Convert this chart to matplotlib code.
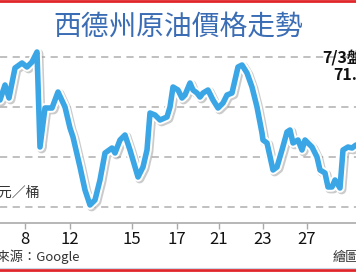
import matplotlib
matplotlib.use("Agg")
import matplotlib.pyplot as plt
import matplotlib.patheffects as pe
from matplotlib.lines import Line2D

plt.rcParams['font.family'] = ['Noto Sans CJK TC', 'DejaVu Sans']

# 時間位置(交易時段索引) 與 價格(美元/桶)
t = [0, 5, 9, 15, 22, 27, 32, 37, 40, 45, 52, 58, 65, 70, 73, 80, 85, 90, 95, 100,
     105, 112, 115, 120, 125, 130, 138, 143, 147, 150, 155, 160, 167, 170, 173, 178,
     182, 185, 190, 193, 197, 200, 203, 208, 213, 218, 223, 227, 232, 238, 242, 247,
     252, 257, 262, 263, 267, 273, 277, 282, 287, 290, 293, 298, 302, 305, 308, 312,
     317, 320, 325, 328, 332, 335, 340, 343, 348, 352, 356]
price = [73.28, 73.88, 73.36, 74.56, 74.76, 74.60, 74.80, 75.20, 71.40, 72.96,
         72.96, 73.60, 73.00, 72.16, 71.80, 70.60, 69.68, 69.08, 69.28, 70.08,
         71.16, 71.36, 71.16, 71.68, 71.88, 71.28, 70.20, 70.60, 71.28, 72.76,
         72.68, 72.48, 72.60, 73.00, 73.80, 73.68, 73.36, 73.48, 73.96, 73.68,
         73.56, 73.40, 73.56, 73.68, 73.28, 72.96, 73.16, 73.48, 73.56, 74.60,
         74.68, 74.36, 73.80, 73.00, 71.96, 71.68, 71.56, 70.48, 70.60, 71.28,
         72.00, 72.08, 71.56, 71.68, 71.28, 71.68, 71.56, 71.40, 71.00, 70.48,
         70.36, 69.80, 69.80, 70.08, 69.76, 71.28, 71.40, 71.36, 71.48]

tick_pos = [25, 70, 132, 177, 219, 263, 307]
tick_labels = ['8', '12', '15', '17', '21', '23', '27']
grid_levels = [69, 71, 73, 75]

fig = plt.figure(figsize=(3.56, 2.72), dpi=100)
ax = fig.add_axes([0, 1 - 223 / 272, 1, (223 - 45) / 272])

ax.plot(t, price, color='#3aa6e6', linewidth=4.0, solid_joinstyle='round',
        solid_capstyle='round', zorder=3,
        path_effects=[pe.SimpleLineShadow(offset=(1.2, -1.2), shadow_color='#999999', alpha=0.5,
                                          linewidth=6.8),
                      pe.Stroke(linewidth=6.8, foreground='white'),
                      pe.Normal()])

ax.set_xlim(0, 356)
ax.set_ylim(75 - (223 - 57) * 0.04, 75 + (57 - 45) * 0.04)

for g in grid_levels:
    ax.axhline(g, color='#bbbbbb', linewidth=1.3, dashes=(4, 3), zorder=1)

for s in ['top', 'left', 'right']:
    ax.spines[s].set_visible(False)
ax.spines['bottom'].set_color('#aaaaaa')
ax.spines['bottom'].set_linewidth(1.2)
ax.set_yticks([])
ax.set_xticks(tick_pos)
ax.set_xticklabels(tick_labels, fontsize=12, color='#111111')
ax.tick_params(axis='x', direction='out', length=4, width=1, color='#aaaaaa', pad=2)

fig.text(0.5, 1 - 27 / 272, '西德州原油價格走勢', ha='center', va='center',
         fontsize=20, color='#3b6db5')
fig.text(322 / 356, 1 - 57 / 272, '7/3盤中', ha='left', va='center',
         fontsize=11.5, fontweight='bold', color='#111111')
fig.text(333 / 356, 1 - 75 / 272, '71.48', ha='left', va='center',
         fontsize=11.5, fontweight='bold', color='#111111')
fig.text(40 / 356, 1 - 193 / 272, '美元／桶', ha='right', va='center',
         fontsize=10, color='#333333')
fig.text(80 / 356, 1 - 257 / 272, '資料來源：Google', ha='right', va='center',
         fontsize=9.5, color='#333333')
fig.text(333 / 356, 1 - 257 / 272, '繪圖：張志錦', ha='left', va='center',
         fontsize=9.5, color='#333333')

fig.add_artist(Line2D([0, 1], [1 - 1 / 272, 1 - 1 / 272], color='#e0262a', linewidth=2))
fig.add_artist(Line2D([0, 1], [2 / 272, 2 / 272], color='#e0262a', linewidth=2))
fig.add_artist(Line2D([0, 1], [4.5 / 272, 4.5 / 272], color='#c9d6e6', linewidth=0.8))

fig.savefig('out.png', dpi=100)
